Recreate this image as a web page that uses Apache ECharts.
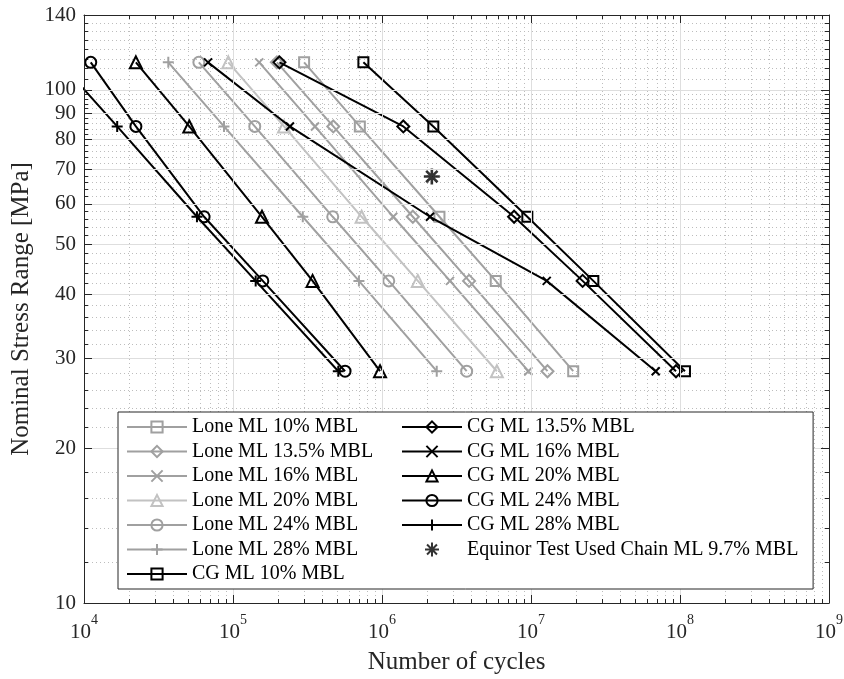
<!DOCTYPE html>
<html><head><meta charset="utf-8">
<script src="https://cdn.jsdelivr.net/npm/echarts@6/dist/echarts.min.js"></script>
<style>html,body{margin:0;padding:0;background:#fff}#c{width:844px;height:679px}</style>
</head><body><div id="c"></div>
<script>
// ---- data ----
const stressLevels = [113.2, 84.9, 56.6, 42.45, 28.3];
const seriesNames = [
  'Lone ML 10% MBL', 'Lone ML 13.5% MBL', 'Lone ML 16% MBL', 'Lone ML 20% MBL',
  'Lone ML 24% MBL', 'Lone ML 28% MBL', 'CG ML 10% MBL', 'CG ML 13.5% MBL',
  'CG ML 16% MBL', 'CG ML 20% MBL', 'CG ML 24% MBL', 'CG ML 28% MBL'
];
const lone10  = [3.0e5, 7.1e5, 2.43e6, 5.8e6, 1.92e7];
const lone135 = [1.97e5, 4.71e5, 1.61e6, 3.84e6, 1.29e7];
const lone16  = [1.50e5, 3.55e5, 1.19e6, 2.86e6, 9.6e6];
const lone20  = [9.3e4, 2.2e5, 7.3e5, 1.74e6, 5.9e6];
const lone24  = [5.9e4, 1.4e5, 4.67e5, 1.11e6, 3.7e6];
const lone28  = [3.68e4, 8.7e4, 2.94e5, 7.0e5, 2.33e6];
const cg10    = [7.5e5, 2.21e6, 9.45e6, 2.62e7, 1.08e8];
const cg135   = [2.05e5, 1.39e6, 7.7e6, 2.22e7, 9.4e7];
const cg16    = [6.8e4, 2.41e5, 2.10e6, 1.275e7, 6.87e7];
const cg20    = [2.23e4, 5.09e4, 1.565e5, 3.42e5, 9.7e5];
const cg24    = [1.11e4, 2.23e4, 6.4e4, 1.585e5, 5.65e5];
const cg28    = [6.9e3, 1.67e4, 5.73e4, 1.42e5, 5.09e5];
const equinorName = 'Equinor Test Used Chain ML 9.7% MBL';
const equinorCycles = [2.16e6];
const equinorStress = [67.8];

const xMajorTicks = [1e4, 1e5, 1e6, 1e7, 1e8, 1e9];
const xMinorTicks = [2e4,3e4,4e4,5e4,6e4,7e4,8e4,9e4, 2e5,3e5,4e5,5e5,6e5,7e5,8e5,9e5,
  2e6,3e6,4e6,5e6,6e6,7e6,8e6,9e6, 2e7,3e7,4e7,5e7,6e7,7e7,8e7,9e7, 2e8,3e8,4e8,5e8,6e8,7e8,8e8,9e8];
const yMajorTicks = [10, 20, 30, 40, 50, 60, 70, 80, 90, 100, 140];
const yMinorTicks = [12,14,16,18,22,24,26,28,32,34,36,38,42,44,46,48,52,54,56,58,
  62,64,66,68,72,74,76,78,82,84,86,88,92,94,96,98,105,110,115,120,125,130,135];

// ---- styling ----
const FONT = '"Liberation Serif", "Times New Roman", serif';
const AX = '#262626';
const GRAY = '#a0a0a0';
const LIGHT = '#c2c2c2';
const BLACK = '#000000';
const X_PATH = 'path://M0,0L10,10M10,0L0,10';
const PLUS_PATH = 'path://M5,0L5,10M0,5L10,5';
const STAR_PATH = 'path://M5,0L5,10M0,5L10,5M1.46,1.46L8.54,8.54M8.54,1.46L1.46,8.54';

const cyclesList = [lone10, lone135, lone16, lone20, lone24, lone28, cg10, cg135, cg16, cg20, cg24, cg28];
const colors = [GRAY, GRAY, GRAY, LIGHT, GRAY, GRAY, BLACK, BLACK, BLACK, BLACK, BLACK, BLACK];
const symbols = ['rect', 'diamond', X_PATH, 'triangle', 'circle', PLUS_PATH,
                 'rect', 'diamond', X_PATH, 'triangle', 'circle', PLUS_PATH];
const sizes = [10, 12, 8, 12, 11, 11, 10, 12, 8, 12, 11, 11];

const series = cyclesList.map((cyc, k) => ({
  name: seriesNames[k],
  type: 'line',
  xAxisIndex: 0, yAxisIndex: 0,
  data: cyc.map((n, i) => [n, stressLevels[i]]),
  symbol: symbols[k],
  symbolSize: sizes[k],
  showAllSymbol: true,
  clip: true,
  lineStyle: { color: colors[k], width: 2 },
  itemStyle: { color: 'rgba(255,255,255,0)', borderColor: colors[k], borderWidth: 2 },
  emphasis: { disabled: true },
  z: k < 6 ? 2 : 3
}));
series.push({
  name: equinorName,
  type: 'scatter',
  xAxisIndex: 0, yAxisIndex: 0,
  data: equinorCycles.map((n, i) => [n, equinorStress[i]]),
  symbol: STAR_PATH,
  symbolSize: 16,
  itemStyle: { color: 'rgba(255,255,255,0)', borderColor: BLACK, borderWidth: 2.6 },
  emphasis: { disabled: true },
  z: 4
});

const labelTxt = { color: AX, fontFamily: FONT, fontSize: 21 };
const xLabelRich = {
  b: { fontFamily: FONT, fontSize: 21, color: AX, lineHeight: 30, verticalAlign: 'bottom' },
  s: { fontFamily: FONT, fontSize: 14, color: AX, lineHeight: 14, verticalAlign: 'top' }
};
const expOf = v => Math.round(Math.log10(v));

function xAx(extra) {
  return Object.assign({
    type: 'log', logBase: 10, min: 1e4, max: 1e9,
    axisLine: { show: false }, axisLabel: { show: false },
    axisTick: { show: false }, splitLine: { show: false }, minorTick: { show: false }
  }, extra);
}
function yAx(extra) {
  return Object.assign({
    type: 'log', logBase: 10, min: 10, max: 140,
    axisLine: { show: false }, axisLabel: { show: false },
    axisTick: { show: false }, splitLine: { show: false }, minorTick: { show: false }
  }, extra);
}

const option = {
  animation: false,
  backgroundColor: '#ffffff',
  grid: { left: 84, right: 15, top: 15, bottom: 76, outerBoundsMode: 'none', containLabel: false },
  xAxis: [
    xAx({
      position: 'bottom',
      name: 'Number of cycles', nameLocation: 'middle', nameGap: 47,
      nameTextStyle: { color: AX, fontFamily: FONT, fontSize: 25 },
      axisLine: { show: true, onZero: false, lineStyle: { color: AX, width: 1 } },
      axisTick: { show: true, inside: true, length: 8, customValues: xMajorTicks, lineStyle: { color: AX } },
      axisLabel: { show: true, customValues: xMajorTicks, margin: 10,
        formatter: v => '{b|10}{s|' + expOf(v) + '}', rich: xLabelRich },
      splitLine: { show: true, lineStyle: { color: '#dedede', width: 1 } },
      z: 5
    }),
    xAx({
      position: 'bottom',
      axisTick: { show: true, inside: true, length: 4, customValues: xMinorTicks, lineStyle: { color: AX } },
      splitLine: { show: true, lineStyle: { color: '#bdbdbd', width: 1, type: [1, 3] } }
    }),
    xAx({
      position: 'top',
      axisLine: { show: true, onZero: false, lineStyle: { color: AX, width: 1 } },
      axisTick: { show: true, inside: true, length: 8, customValues: xMajorTicks, lineStyle: { color: AX } },
      z: 5
    }),
    xAx({
      position: 'top',
      axisTick: { show: true, inside: true, length: 4, customValues: xMinorTicks, lineStyle: { color: AX } }
    })
  ],
  yAxis: [
    yAx({
      position: 'left',
      name: 'Nominal Stress Range [MPa]', nameLocation: 'middle', nameGap: 49,
      nameTextStyle: { color: AX, fontFamily: FONT, fontSize: 25 },
      axisLine: { show: true, onZero: false, lineStyle: { color: AX, width: 1 } },
      axisTick: { show: true, inside: true, length: 8, customValues: yMajorTicks, lineStyle: { color: AX } },
      axisLabel: Object.assign({ show: true, customValues: yMajorTicks, margin: 8,
        formatter: v => String(Math.round(v)) }, labelTxt),
      splitLine: { show: true, lineStyle: { color: '#dedede', width: 1 } },
      z: 5
    }),
    yAx({
      position: 'left',
      axisTick: { show: true, inside: true, length: 4, customValues: yMinorTicks, lineStyle: { color: AX } },
      splitLine: { show: true, lineStyle: { color: '#bdbdbd', width: 1, type: [1, 3] } }
    }),
    yAx({
      position: 'right',
      axisLine: { show: true, onZero: false, lineStyle: { color: AX, width: 1 } },
      axisTick: { show: true, inside: true, length: 8, customValues: yMajorTicks, lineStyle: { color: AX } },
      z: 5
    }),
    yAx({
      position: 'right',
      axisTick: { show: true, inside: true, length: 4, customValues: yMinorTicks, lineStyle: { color: AX } }
    })
  ],
  legend: [
    {
      data: seriesNames.slice(0, 7),
      orient: 'vertical', left: 118, top: 412,
      padding: [5, 440, 5, 8], itemGap: 4.5, itemWidth: 60, itemHeight: 14,
      backgroundColor: '#ffffff', borderColor: AX, borderWidth: 1, borderRadius: 0,
      textStyle: { color: '#000', fontFamily: FONT, fontSize: 20 },
      selectedMode: false, z: 10
    },
    {
      data: seriesNames.slice(7).concat([equinorName]),
      orient: 'vertical', left: 401, top: 412,
      padding: [5, 5, 5, 0], itemGap: 4.5, itemWidth: 60, itemHeight: 14,
      backgroundColor: 'transparent', borderWidth: 0,
      textStyle: { color: '#000', fontFamily: FONT, fontSize: 20 },
      selectedMode: false, z: 11
    }
  ],
  series: series
};

const chart = echarts.init(document.getElementById('c'), null, { renderer: 'canvas' });
chart.setOption(option);
</script>
</body></html>
